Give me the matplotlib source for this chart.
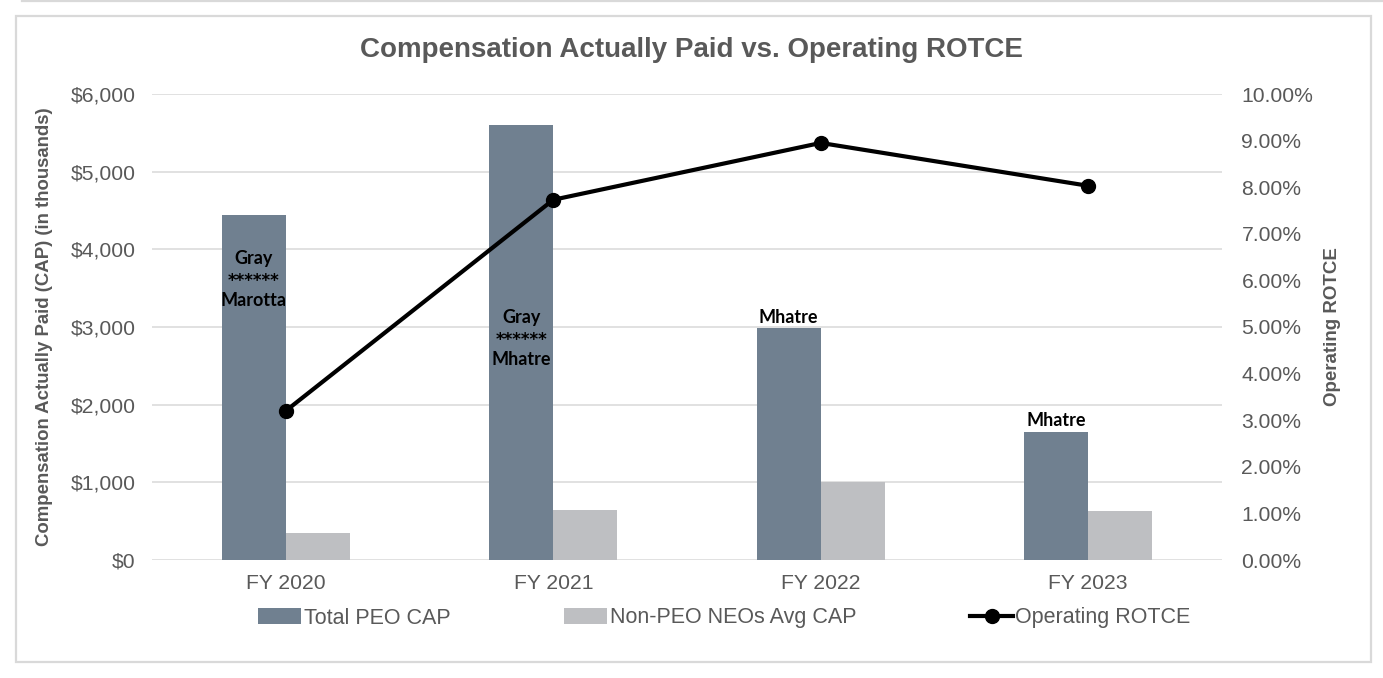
import matplotlib
matplotlib.use("Agg")
import matplotlib.pyplot as plt
from matplotlib.patches import Rectangle
from matplotlib.lines import Line2D
import numpy as np

categories = ["FY 2020", "FY 2021", "FY 2022", "FY 2023"]
peo_cap = [4440, 5600, 2990, 1650]
non_peo_cap = [350, 640, 1000, 630]
rotce = [3.20, 7.73, 8.95, 8.03]
peo_names = ["Gray\n******\nMarotta", "Gray\n******\nMhatre", "Mhatre", "Mhatre"]
left_ticks = [0, 1000, 2000, 3000, 4000, 5000, 6000]
right_ticks = [0, 1, 2, 3, 4, 5, 6, 7, 8, 9, 10]

TXT = "#595959"
C_PEO = "#708090"
C_NON = "#BEBFC2"
GRID = "#D9D9D9"

plt.rcParams['font.family'] = ['Liberation Sans', 'DejaVu Sans']

fig = plt.figure(figsize=(13.83, 6.78), dpi=100)
W, H = 1383, 678

# outer frame
fig.patches.append(Rectangle((16 / W, 1 - 662 / H), (1371 - 16) / W, (662 - 16) / H,
                             transform=fig.transFigure, fill=False,
                             edgecolor=GRID, lw=1.6))
fig.lines.append(Line2D([22 / W, 1.0], [1 - 1 / H, 1 - 1 / H], transform=fig.transFigure,
                        color=GRID, lw=1.6))

ax = fig.add_axes([152 / W, 1 - 560 / H, (1222 - 152) / W, (560 - 94) / H])
ax2 = ax.twinx()

x = np.arange(len(categories))
bw = 0.24
b1 = ax.bar(x - bw / 2, peo_cap, bw, color=C_PEO, zorder=2, label="Total PEO CAP")
b2 = ax.bar(x + bw / 2, non_peo_cap, bw, color=C_NON, zorder=2, label="Non-PEO NEOs Avg CAP")

ax.set_xlim(-0.5, 3.5)
ax.set_ylim(0, 6000)
ax.set_yticks(left_ticks)
ax.set_yticklabels([f"${v:,.0f}" for v in left_ticks])
ax.set_xticks(x)
ax.set_xticklabels(categories)
ax.grid(axis='y', color=GRID, lw=1.1, zorder=0)
ax.set_axisbelow(True)
for s in ax.spines.values():
    s.set_visible(False)
for s in ax2.spines.values():
    s.set_visible(False)
ax.tick_params(axis='y', length=0, pad=12, labelsize=15.2, labelcolor=TXT)
ax.tick_params(axis='x', length=0, pad=10, labelsize=15.2, labelcolor=TXT)

ax2.set_ylim(0, 10)
ax2.set_yticks(right_ticks)
ax2.set_yticklabels([f"{v:.2f}%" for v in right_ticks])
ax2.tick_params(axis='y', length=0, pad=14, labelsize=15.2, labelcolor=TXT)
ln, = ax2.plot(x, rotce, color='black', lw=3, marker='o', ms=10, zorder=5,
               label="Operating ROTCE")

ax.set_ylabel("Compensation Actually Paid (CAP) (in thousands)", fontsize=13.4,
              fontweight='bold', color=TXT)
ax.yaxis.set_label_coords(-0.0925, 0.5)
ax2.set_ylabel("Operating ROTCE", fontsize=13.5, fontweight='bold', color=TXT)
ax2.yaxis.set_label_coords(1.0953, 0.5)

fig.text(0.5, 1 - 50 / H, "Compensation Actually Paid vs. Operating ROTCE",
         ha='center', va='center', fontsize=20, fontweight='bold', color=TXT)

# PEO name labels
offsets = [-64, -213, 10, 11]  # px relative to bar top (center of label)
line_gap = 21  # px between label lines
for i, (name, v) in enumerate(zip(peo_names, peo_cap)):
    lines = name.split("\n")
    n = len(lines)
    for j, line in enumerate(lines):
        dy = offsets[i] - (j - (n - 1) / 2) * line_gap
        if set(line) == {"*"}:
            ax.annotate(line, xy=(x[i] - bw / 2, v), xytext=(0, (dy - 2) * 0.72),
                        textcoords='offset points', ha='center', va='center',
                        fontsize=12, fontweight='bold', color='black',
                        family=['DejaVu Sans'], zorder=6)
        else:
            ax.annotate(line, xy=(x[i] - bw / 2, v), xytext=(0, dy * 0.72),
                        textcoords='offset points', ha='center', va='center',
                        fontsize=13, fontweight='bold', color='black',
                        family=['Lato', 'DejaVu Sans'], zorder=6)

fig.legend(handles=[b1, b2, ln], loc='center', bbox_to_anchor=(724.5 / W, 1 - 618 / H),
           ncol=3, frameon=False, fontsize=15.5, labelcolor=TXT, handlelength=2.0,
           handletextpad=0.1, columnspacing=5.3)

fig.savefig("out.png", dpi=100)
